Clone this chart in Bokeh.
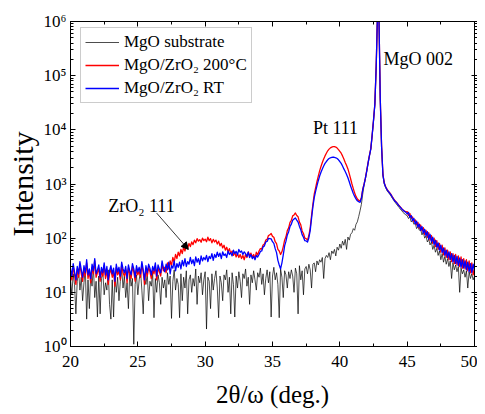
from bokeh.plotting import figure
from bokeh.models import LinearAxis, LogAxis, FixedTicker, Label, Arrow, NormalHead, Legend, LegendItem
from bokeh.embed import file_html
from bokeh.resources import INLINE

# ---------------- data ----------------
two_theta = [round(20 + 0.1 * i, 1) for i in range(301)]

mgo_substrate = [
    18, 9, 22, 14, 4, 16, 25, 11, 19, 7,
    15, 28, 3.2, 17, 5, 21, 13, 30, 8, 16,
    3.5, 20, 4, 18, 24, 9, 15, 11, 26, 6,
    3.2, 17, 3.5, 22, 10, 19, 7, 16, 27, 12,
    20, 8, 15, 5, 23, 13, 18, 1.1, 14, 21,
    9, 17, 25, 11, 4, 19, 14, 22, 7, 16,
    13, 24, 3.4, 18, 10, 21, 15, 6, 19, 12,
    17, 8, 23, 14, 20, 3.3, 16, 26, 11, 18,
    14, 3.4, 22, 7, 19, 12, 25, 4, 17, 21,
    10, 18, 13, 27, 6, 20, 15, 23, 9, 17,
    24, 2.1, 19, 16, 5, 22, 11, 18, 25, 12,
    3.4, 20, 15, 7, 21, 17, 26, 10, 19, 4,
    23, 14, 3.5, 20, 12, 24, 16, 8, 22, 18,
    27, 13, 19, 6, 21, 15, 25, 17, 11, 23,
    19, 28, 14, 22, 9, 18, 26, 15, 24, 3.5,
    20, 29, 17, 23, 14, 3.4, 27, 19, 8, 25,
    21, 12, 24, 18, 26, 20, 10, 28, 22, 4,
    31, 17, 25, 9, 27, 30, 22, 33, 26, 12,
    33, 35, 24, 38, 32, 40, 36, 44, 18, 42,
    48, 44, 54, 40, 58, 52, 62, 47, 68, 60,
    78, 65, 88, 74, 95, 62, 105, 92, 118, 126,
    150, 140, 180, 200, 250, 320, 420, 650, 950, 1250,
    1700, 2400, 3300, 4400, 7800, 14500, 29000, 145000, 1500000, 1500000,
    38000, 4800, 1450, 1000, 860, 760, 700, 650, 600, 545,
    500, 455, 430, 395, 370, 340, 320, 300, 280, 270,
    260, 230, 250, 200, 215, 180, 190, 150, 165, 140,
    145, 115, 130, 100, 110, 85, 96, 75, 85, 62,
    74, 55, 65, 48, 58, 40, 52, 36, 46, 33,
    42, 30, 38, 18, 35, 26, 32, 24, 30, 10,
    28, 22, 26, 19, 25, 12, 24, 18, 22, 17,
    20,
]

zro2_200c = [
    24, 17, 30, 21, 14, 27, 19, 33, 22, 16,
    26, 20, 35, 18, 24, 15, 29, 22, 38, 19,
    23, 28, 16, 25, 20, 31, 18, 26, 14, 22,
    27, 19, 24, 13, 29, 21, 25, 17, 32, 23,
    20, 26, 15, 28, 22, 18, 30, 24, 16, 27,
    21, 25, 19, 33, 23, 14, 27, 20, 29, 24,
    18, 26, 22, 31, 17, 28, 24, 20, 34, 25,
    29, 23, 35, 27, 38, 31, 44, 36, 50, 42,
    55, 47, 62, 52, 68, 58, 74, 65, 80, 70,
    85, 76, 92, 82, 98, 88, 94, 84, 100, 90,
    96, 86, 104, 90, 98, 82, 95, 85, 92, 78,
    88, 72, 80, 66, 74, 60, 68, 56, 64, 52,
    58, 48, 55, 45, 52, 44, 50, 42, 48, 40,
    50, 44, 56, 47, 53, 45, 50, 42, 55, 49,
    58, 64, 63, 75, 78, 92, 95, 112, 115, 122,
    108, 104, 86, 79, 62, 58, 50, 56, 70, 92,
    106, 138, 155, 196, 214, 258, 268, 292, 262, 248,
    198, 176, 136, 122, 100, 98, 92, 112, 155, 262,
    420, 650, 850, 1100, 1400, 1750, 2100, 2500, 2900, 3300,
    3700, 4100, 4400, 4650, 4800, 4900, 4900, 4800, 4600, 4300,
    4000, 3700, 3300, 2900, 2500, 2200, 1900, 1550, 1250, 1000,
    820, 680, 590, 530, 500, 490, 560, 800, 1000, 1300,
    1800, 2500, 3400, 4500, 8000, 15000, 30000, 150000, 1500000, 1500000,
    40000, 5000, 1500, 1050, 900, 800, 740, 690, 640, 580,
    530, 490, 460, 430, 400, 375, 350, 330, 315, 305,
    310, 262, 285, 232, 246, 200, 218, 176, 196, 152,
    175, 136, 156, 118, 140, 104, 126, 92, 112, 80,
    100, 70, 90, 62, 80, 55, 74, 49, 66, 44,
    60, 40, 56, 37, 52, 34, 50, 32, 47, 30,
    45, 28, 42, 27, 40, 25, 38, 23, 35, 21,
    27,
]

zro2_rt = [
    28, 20, 34, 24, 17, 30, 22, 37, 26, 19,
    31, 23, 40, 21, 27, 18, 33, 25, 42, 22,
    26, 32, 19, 29, 23, 35, 21, 30, 17, 25,
    31, 22, 28, 16, 33, 24, 29, 20, 36, 27,
    23, 30, 18, 32, 25, 21, 34, 27, 19, 31,
    24, 29, 22, 37, 26, 17, 31, 23, 33, 28,
    21, 30, 25, 35, 20, 32, 27, 23, 38, 28,
    24, 33, 26, 36, 22, 31, 28, 38, 25, 34,
    29, 36, 27, 39, 31, 42, 30, 37, 33, 44,
    34, 40, 31, 45, 36, 42, 33, 47, 38, 44,
    40, 48, 37, 46, 42, 52, 39, 50, 44, 55,
    46, 53, 42, 56, 48, 51, 44, 58, 50, 54,
    47, 60, 52, 57, 49, 62, 55, 58, 50, 56,
    52, 46, 55, 44, 50, 42, 46, 40, 48, 45,
    50, 57, 58, 69, 72, 85, 87, 99, 98, 97,
    86, 80, 64, 54, 39, 32, 27, 35, 49, 72,
    88, 115, 132, 164, 182, 214, 225, 236, 215, 198,
    165, 143, 116, 104, 90, 89, 85, 102, 138, 232,
    380, 560, 730, 920, 1150, 1400, 1650, 1900, 2150, 2400,
    2600, 2800, 2950, 3050, 3100, 3150, 3100, 3050, 2950, 2800,
    2600, 2400, 2150, 1900, 1700, 1500, 1300, 1100, 920, 780,
    670, 590, 530, 490, 470, 460, 540, 780, 980, 1280,
    1750, 2450, 3350, 4450, 7900, 14800, 29500, 148000, 1500000, 1500000,
    39000, 4900, 1480, 1030, 880, 790, 730, 680, 630, 570,
    520, 480, 455, 425, 395, 370, 345, 328, 312, 300,
    280, 300, 242, 262, 210, 232, 184, 206, 160, 182,
    140, 164, 124, 146, 110, 132, 96, 118, 86, 104,
    76, 92, 68, 82, 60, 74, 54, 66, 48, 60,
    44, 56, 40, 52, 36, 48, 34, 46, 31, 43,
    29, 40, 28, 38, 26, 36, 24, 34, 23, 33,
    25,
]

series_names = ["MgO substrate", "MgO/ZrO\u2082 200\u00b0C", "MgO/ZrO\u2082 RT"]
x_ticks = [20, 25, 30, 35, 40, 45, 50]
x_minor_ticks = [22.5, 27.5, 32.5, 37.5, 42.5, 47.5]
x_tick_labels = ["20", "25", "30", "35", "40", "45", "50"]
y_ticks = [1, 10, 100, 1000, 10000, 100000, 1000000]
y_tick_labels = ["10\u2070", "10\u00b9", "10\u00b2", "10\u00b3", "10\u2074", "10\u2075", "10\u2076"]

annotations = [
    ("ZrO\u2082 111", 22.8, 400),
    ("Pt 111", 38.0, 10800),
    ("MgO 002", 43.24, 205000),
]

FONT = "Liberation Serif"

p = figure(
    width=477, height=412,
    x_range=(20, 50), y_range=(1, 1e6), y_axis_type="log",
    output_backend="svg", toolbar_location=None,
    min_border_left=70, min_border_right=3, min_border_top=21, min_border_bottom=66,
)
p.background_fill_color = "white"
p.border_fill_color = "white"
p.outline_line_color = "black"
p.outline_line_width = 1
p.xgrid.visible = False
p.ygrid.visible = False

y_minor = [m * 10 ** e for e in range(6) for m in range(2, 10)]
xt = FixedTicker(ticks=x_ticks, minor_ticks=x_minor_ticks)
yt = FixedTicker(ticks=y_ticks, minor_ticks=y_minor)


def style_axis(ax):
    ax.axis_line_color = "black"
    ax.axis_line_width = 1
    ax.major_tick_in = 5
    ax.major_tick_out = 0
    ax.minor_tick_in = 3
    ax.minor_tick_out = 0
    ax.major_tick_line_color = "black"
    ax.minor_tick_line_color = "black"
    ax.major_label_text_font = FONT
    ax.major_label_text_font_size = "17px"
    ax.major_label_text_color = "black"


p.xaxis.ticker = xt
p.yaxis.ticker = yt
for ax in p.xaxis + p.yaxis:
    style_axis(ax)
p.xaxis.major_label_overrides = {t: l for t, l in zip(x_ticks, x_tick_labels)}
p.yaxis.major_label_overrides = {t: l for t, l in zip(y_ticks, y_tick_labels)}
p.xaxis.major_label_standoff = 9
p.yaxis.major_label_standoff = 4

p.xaxis.axis_label = "2\u03b8/\u03c9 (deg.)"
p.yaxis.axis_label = "Intensity"
for ax in p.xaxis + p.yaxis:
    ax.axis_label_text_font = FONT
    ax.axis_label_text_font_style = "normal"
    ax.axis_label_text_color = "black"
p.xaxis.axis_label_text_font_size = "25px"
p.yaxis.axis_label_text_font_size = "30px"
p.xaxis.axis_label_standoff = 11
p.yaxis.axis_label_standoff = 2

# mirrored tick marks on top and right (no labels)
top = LinearAxis(ticker=xt)
right = LogAxis(ticker=yt)
for ax in (top, right):
    style_axis(ax)
    ax.major_label_text_font_size = "1px"
    ax.major_label_text_alpha = 0
    ax.major_label_standoff = -10
    ax.axis_label_standoff = 0
right.major_tick_in = 3
right.major_tick_out = 3
right.minor_tick_in = 0
right.minor_tick_out = 3
p.add_layout(top, "above")
p.add_layout(right, "right")

colors = ["black", "#ff0000", "#0000ff"]
widths = [0.7, 1.3, 1.3]
renderers = []
for ys, c, w in zip([mgo_substrate, zro2_200c, zro2_rt], colors, widths):
    renderers.append(p.line(two_theta, ys, line_color=c, line_width=w, line_join="round"))

for txt, x, y in annotations:
    p.add_layout(Label(x=x, y=y, text=txt, text_font=FONT, text_font_size="18px",
                       text_color="black", text_baseline="alphabetic"))

p.add_layout(Arrow(x_start=26.4, y_start=290, x_end=28.75, y_end=62,
                   line_color="black", line_width=0.8,
                   end=NormalHead(size=7, fill_color="black", line_color="black")))

lg = Legend(items=[LegendItem(label=n, renderers=[r]) for n, r in zip(series_names, renderers)])
lg.location = (10, 243)
lg.label_text_font = FONT
lg.label_text_font_size = "17px"
lg.label_text_color = "black"
lg.glyph_width = 34
lg.glyph_height = 20
lg.label_height = 20
lg.spacing = 3
lg.padding = 4
lg.margin = 0
lg.label_standoff = 5
lg.border_line_color = "#999999"
lg.border_line_width = 1
lg.background_fill_alpha = 1
p.add_layout(lg, "center")

open("out.html", "w").write(file_html(p, INLINE))
